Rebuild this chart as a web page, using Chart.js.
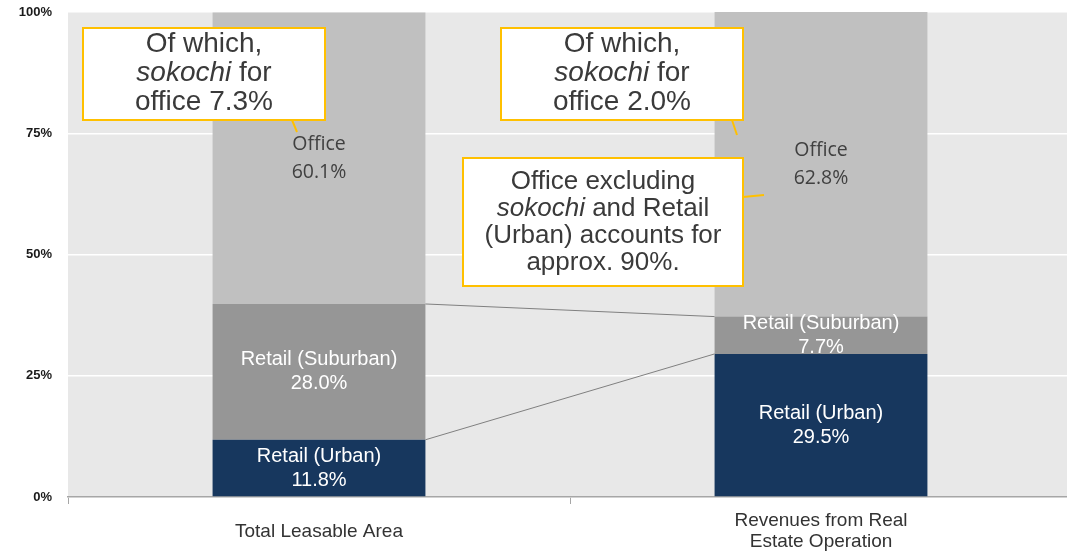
<!DOCTYPE html>
<html>
<head>
<meta charset="utf-8">
<script src="https://cdn.jsdelivr.net/npm/chart.js@4.4.0/dist/chart.umd.min.js"></script>
<style>
html, body { margin: 0; padding: 0; background: #fff; overflow: hidden; }
</style>
</head>
<body>
<canvas id="myChart" width="1072" height="554"></canvas>
<script>
// data
var categories = ['Total Leasable Area', ['Revenues from Real', 'Estate Operation']];
var seriesNames = ['Retail (Urban)', 'Retail (Suburban)', 'Office'];
var retailUrban = [11.8, 29.5];
var retailSuburban = [28.0, 7.7];
var office = [60.1, 62.8];
var yTicks = [0, 25, 50, 75, 100];

// callout texts, _x_ = italic
var note1 = ['Of which,', '_sokochi_ for', 'office 7.3%'];
var note2 = ['Of which,', '_sokochi_ for', 'office 2.0%'];
var note3 = ['Office excluding', '_sokochi_ and Retail', '(Urban) accounts for', 'approx. 90%.'];

var seriesValues = [retailUrban, retailSuburban, office];
var seriesColors = ['#17375e', '#969696', '#c0c0c0'];

function drawRichLine(ctx, text, cx, y, size, color) {
    var parts = text.split('_');
    var widths = [];
    var total = 0;
    for (var i = 0; i < parts.length; i++) {
        ctx.font = (i % 2 == 1 ? 'italic ' : '') + size + 'px Arial, "Liberation Sans"';
        widths[i] = ctx.measureText(parts[i]).width;
        total += widths[i];
    }
    var x = cx - total / 2;
    ctx.fillStyle = color;
    ctx.textAlign = 'left';
    ctx.textBaseline = 'middle';
    for (var i = 0; i < parts.length; i++) {
        ctx.font = (i % 2 == 1 ? 'italic ' : '') + size + 'px Arial, "Liberation Sans"';
        ctx.fillText(parts[i], x, y);
        x += widths[i];
    }
}

function drawCallout(ctx, lines, box, tail, size, lh) {
    ctx.save();
    ctx.strokeStyle = '#ffc000';
    ctx.lineWidth = 2;
    ctx.beginPath();
    ctx.moveTo(tail[0], tail[1]);
    ctx.lineTo(tail[2], tail[3]);
    ctx.stroke();
    ctx.fillStyle = '#ffffff';
    ctx.fillRect(box[0], box[1], box[2], box[3]);
    ctx.strokeRect(box[0], box[1], box[2], box[3]);
    for (var i = 0; i < lines.length; i++) {
        drawRichLine(ctx, lines[i], box[0] + box[2] / 2, box[4] + i * lh, size, '#3a3a3a');
    }
    ctx.restore();
}

var plotBg = {
    id: 'plotBg',
    beforeDraw: function(chart) {
        var a = chart.chartArea, ctx = chart.ctx;
        ctx.save();
        ctx.fillStyle = '#e8e8e8';
        ctx.fillRect(a.left, a.top, a.right - a.left, a.bottom - a.top);
        ctx.restore();
    }
};

var extras = {
    id: 'extras',
    afterDatasetsDraw: function(chart) {
        var ctx = chart.ctx;
        var y = chart.scales.y;
        var b1 = chart.getDatasetMeta(0).data[0];
        var b2 = chart.getDatasetMeta(0).data[1];
        var x1 = b1.x + b1.width / 2;
        var x2 = b2.x - b2.width / 2;

        // connector lines between the bars
        ctx.save();
        ctx.strokeStyle = '#808080';
        ctx.lineWidth = 1;
        ctx.beginPath();
        ctx.moveTo(x1, y.getPixelForValue(retailUrban[0] + retailSuburban[0]));
        ctx.lineTo(x2, y.getPixelForValue(retailUrban[1] + retailSuburban[1]));
        ctx.moveTo(x1, y.getPixelForValue(retailUrban[0]));
        ctx.lineTo(x2, y.getPixelForValue(retailUrban[1]));
        ctx.stroke();
        ctx.restore();

        // segment labels
        ctx.save();
        ctx.textAlign = 'center';
        ctx.textBaseline = 'middle';
        chart.data.datasets.forEach(function(ds, di) {
            chart.getDatasetMeta(di).data.forEach(function(el, i) {
                var cy = (el.y + el.base) / 2;
                var pct = ds.data[i].toFixed(1) + '%';
                if (di == 2) {
                    ctx.font = '19.5px "Open Sans"';
                    ctx.fillStyle = '#404040';
                    ctx.fillText(ds.label, el.x, cy - 14);
                    ctx.fillText(pct, el.x, cy + 14);
                } else {
                    ctx.font = '20px Arial, "Liberation Sans"';
                    ctx.fillStyle = '#ffffff';
                    ctx.fillText(ds.label, el.x, cy - 12);
                    ctx.fillText(pct, el.x, cy + 12);
                }
            });
        });
        ctx.restore();
    },
    afterDraw: function(chart) {
        var ctx = chart.ctx;
        drawCallout(ctx, note1, [83, 28, 242, 92, 44], [292, 120, 297, 132], 28, 29);
        drawCallout(ctx, note2, [501, 28, 242, 92, 44], [732, 120, 737, 135], 28, 29);
        drawCallout(ctx, note3, [463, 158, 280, 128, 182], [743, 197, 764, 195], 26, 27);
    }
};

var datasets = [];
for (var i = 0; i < seriesNames.length; i++) {
    datasets.push({
        label: seriesNames[i],
        data: seriesValues[i],
        backgroundColor: seriesColors[i],
        borderWidth: 0,
        categoryPercentage: 1,
        barPercentage: 0.424
    });
}

var ctx = document.getElementById('myChart').getContext('2d');
var myChart = new Chart(ctx, {
    type: 'bar',
    data: {
        labels: categories,
        datasets: datasets
    },
    options: {
        responsive: false,
        animation: false,
        layout: { padding: { top: 12, right: 0, left: 0, bottom: 0 } },
        plugins: {
            legend: { display: false },
            tooltip: { enabled: false }
        },
        scales: {
            x: {
                stacked: true,
                afterFit: function(s) { s.height = 57; },
                grid: {
                    drawOnChartArea: false,
                    drawTicks: true,
                    tickLength: 7,
                    color: '#a6a6a6'
                },
                border: { display: true, color: '#a6a6a6', width: 1.5 },
                ticks: {
                    color: '#333333',
                    padding: 17,
                    crossAlign: 'center',
                    font: { family: 'Arial, "Liberation Sans"', size: 19, lineHeight: 21 / 19 }
                }
            },
            y: {
                stacked: true,
                min: 0,
                max: 100,
                afterFit: function(s) {
                    s.width = 68;
                    s.paddingTop = 0;
                    s.paddingBottom = 0;
                },
                afterBuildTicks: function(s) {
                    s.ticks = yTicks.map(function(v) { return { value: v }; });
                },
                grid: { color: '#ffffff', lineWidth: 1.5, drawTicks: false },
                border: { display: false },
                ticks: {
                    padding: 16,
                    color: '#1a1a1a',
                    font: { family: 'Arial, "Liberation Sans"', size: 13, weight: 'bold' },
                    callback: function(v) { return v + '%'; }
                }
            }
        }
    },
    plugins: [plotBg, extras]
});
</script>
</body>
</html>
